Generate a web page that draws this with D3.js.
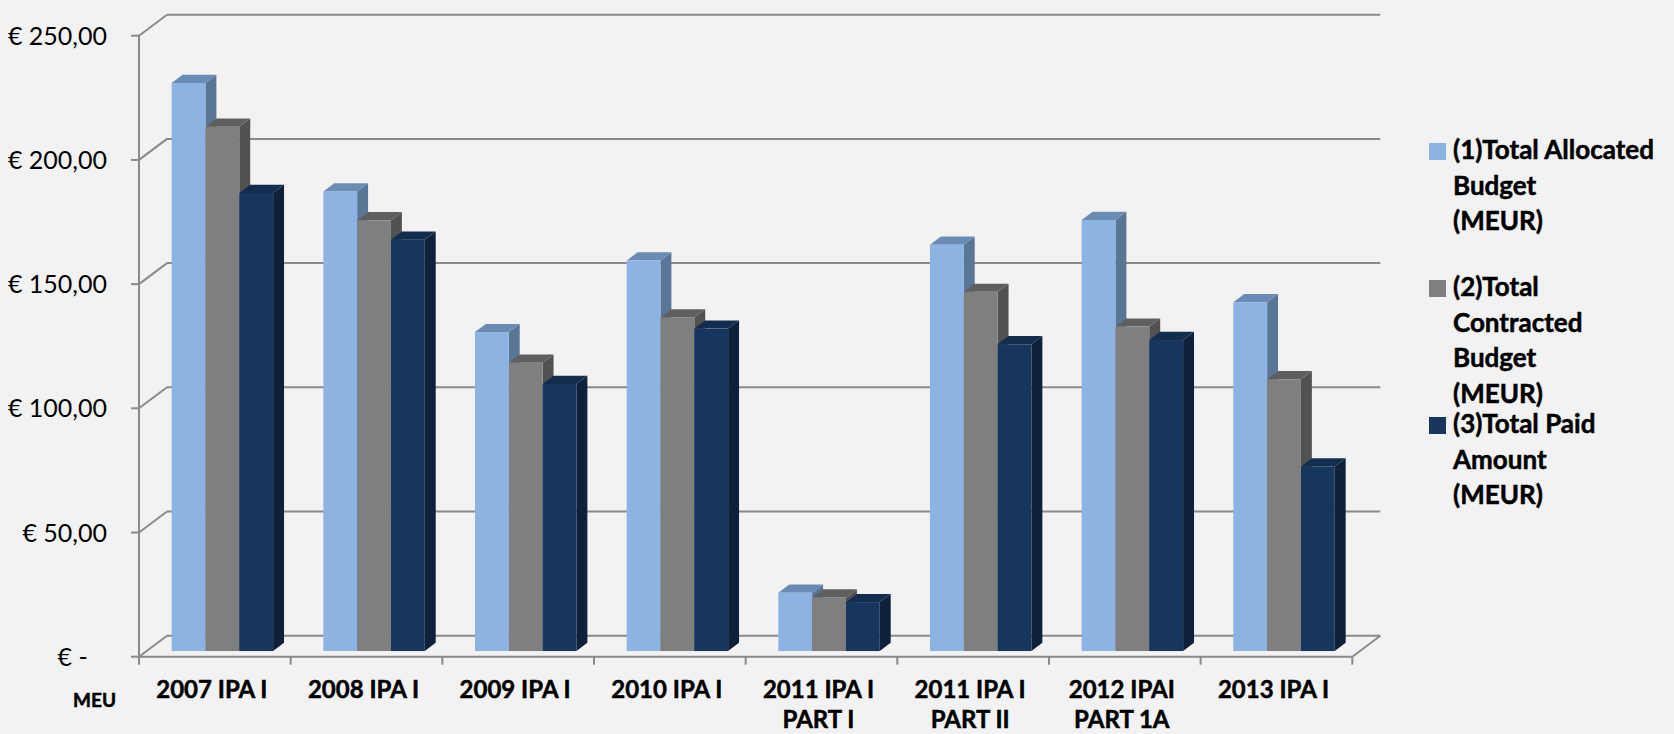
<!DOCTYPE html>
<html>
<head>
<meta charset="utf-8">
<script src="https://cdn.jsdelivr.net/npm/d3@7"></script>
<style>
  body { margin: 0; background: #f2f2f2; }
  svg { display: block; font-family: Lato, "Open Sans", sans-serif; }
  .bold { font-weight: bold; stroke: #000; stroke-width: 0.5px; }
</style>
</head>
<body>
<div id="chart"></div>
<script>
// data
const categories = ["2007 IPA I", "2008 IPA I", "2009 IPA I", "2010 IPA I",
    "2011 IPA I PART I", "2011 IPA I PART II", "2012 IPAI PART 1A", "2013 IPA I"];
const categoryLines = [["2007 IPA I"], ["2008 IPA I"], ["2009 IPA I"], ["2010 IPA I"],
    ["2011 IPA I", "PART I"], ["2011 IPA I", "PART II"], ["2012 IPAI", "PART 1A"], ["2013 IPA I"]];
const seriesNames = ["(1)Total Allocated Budget (MEUR)", "(2)Total Contracted Budget (MEUR)", "(3)Total Paid Amount (MEUR)"];
const legendLines = [["(1)Total Allocated", "Budget", "(MEUR)"],
    ["(2)Total", "Contracted", "Budget", "(MEUR)"],
    ["(3)Total Paid", "Amount", "(MEUR)"]];
const allocated = [228.7, 185.0, 128.4, 157.2, 23.5, 163.6, 173.5, 140.4];
const contracted = [211.1, 173.4, 116.1, 134.3, 21.6, 144.6, 130.6, 109.4];
const paid = [184.4, 165.6, 107.5, 129.8, 19.7, 123.5, 125.2, 74.3];
const yTicks = [0, 50, 100, 150, 200, 250];
const yTickLabels = ["€ -\u00a0\u00a0\u00a0", "€ 50,00", "€ 100,00", "€ 150,00", "€ 200,00", "€ 250,00"];

const colors = [
    {front: "#8db3e2", top: "#6a8bb4", side: "#5a7697"},
    {front: "#7f7f7f", top: "#5f5f5f", side: "#525252"},
    {front: "#17365d", top: "#132d4f", side: "#0f2039"}
];

const width = 1674, height = 734;
const svg = d3.select("#chart").append("svg")
    .attr("width", width)
    .attr("height", height);

// oblique 3d projection
const DX = 28, DY = 21;
const x = d3.scaleBand().domain(categories).range([139, 1352.3]).padding(0);
const x1 = d3.scaleBand().domain(seriesNames).range([0, x.bandwidth()]).paddingInner(0).paddingOuter(0.742);
const y = d3.scaleLinear().domain([0, 250]).range([656.7, 35.7]);
const P = (px, v, d) => [px + d * DX, y(v) - d * DY];
const D0 = 0.27, D1 = 0.66;

const gridColor = "#8a8a8a";
const grid = svg.append("g").attr("stroke", gridColor).attr("stroke-width", 2).attr("fill", "none");
const x0 = x.range()[0], xEnd = x.range()[1];

function line(a, b) {
    grid.append("line").attr("x1", a[0]).attr("y1", a[1]).attr("x2", b[0]).attr("y2", b[1]);
}

// back wall gridlines and side wall diagonals
yTicks.forEach(v => {
    line(P(x0, v, 1), P(xEnd, v, 1));
    line(P(x0, v, 0), P(x0, v, 1));
    line(P(x0 - 8, v, 0), P(x0, v, 0));
});
// vertical axis + floor
line(P(x0, 0, 0), P(x0, 250, 0));
line(P(x0, 0, 0), P(xEnd, 0, 0));
line(P(xEnd, 0, 0), P(xEnd, 0, 1));
categories.concat([null]).forEach((c, i) => {
    let px = c === null ? xEnd : x(c);
    grid.append("line").attr("x1", px).attr("y1", y(0)).attr("x2", px).attr("y2", y(0) + 8);
});

// y labels
svg.append("g").selectAll("text").data(yTicks).enter().append("text")
    .attr("x", 107)
    .attr("y", d => y(d) + 9)
    .attr("text-anchor", "end")
    .style("font-size", "25px")
    .style("fill", "#000")
    .text((d, i) => yTickLabels[i]);

// bars
const seriesData = [allocated, contracted, paid];
const pts = arr => arr.map(p => p.join(",")).join(" ");
const bars = svg.append("g");
categories.forEach((c, ci) => {
    seriesNames.forEach((s, si) => {
        let v = seriesData[si][ci];
        let bx = x(c) + x1(s), w = x1.bandwidth();
        let g = bars.append("g");
        g.append("polygon")
            .attr("points", pts([P(bx + w, v, D0), P(bx + w, v, D1), P(bx + w, 0, D1), P(bx + w, 0, D0)]))
            .attr("fill", colors[si].side);
        g.append("polygon")
            .attr("points", pts([P(bx, v, D0), P(bx + w, v, D0), P(bx + w, v, D1), P(bx, v, D1)]))
            .attr("fill", colors[si].top);
        let a = P(bx, v, D0), b = P(bx + w, 0, D0);
        g.append("rect")
            .attr("x", a[0]).attr("y", a[1])
            .attr("width", b[0] - a[0]).attr("height", b[1] - a[1])
            .attr("fill", colors[si].front);
    });
});

// x labels
const xl = svg.append("g").attr("text-anchor", "middle").attr("class", "bold")
    .style("font-size", "24px");
categories.forEach((c, i) => {
    let cx = x(c) + x.bandwidth() / 2 - 3;
    let t = xl.append("text").attr("x", cx).attr("y", 698);
    categoryLines[i].forEach((ln, j) => {
        t.append("tspan").attr("x", cx).attr("dy", j ? 30 : 0).text(ln);
    });
});

svg.append("text")
    .attr("class", "bold")
    .attr("x", 73).attr("y", 707)
    .style("font-size", "19px")
    .text("MEU");

// legend
const legendY = [159, 296, 433];
const legend = svg.append("g").attr("class", "bold").style("font-size", "26px");
seriesNames.forEach((s, i) => {
    let g = legend.append("g").attr("transform", "translate(1429," + legendY[i] + ")");
    g.append("rect").attr("x", 0).attr("y", -16).attr("width", 17).attr("height", 17)
        .attr("fill", colors[i].front).attr("stroke", "none");
    let t = g.append("text").attr("x", 24).attr("y", 0);
    legendLines[i].forEach((ln, j) => {
        t.append("tspan").attr("x", 24).attr("dy", j ? 35.7 : 0).text(ln);
    });
});
</script>
</body>
</html>
